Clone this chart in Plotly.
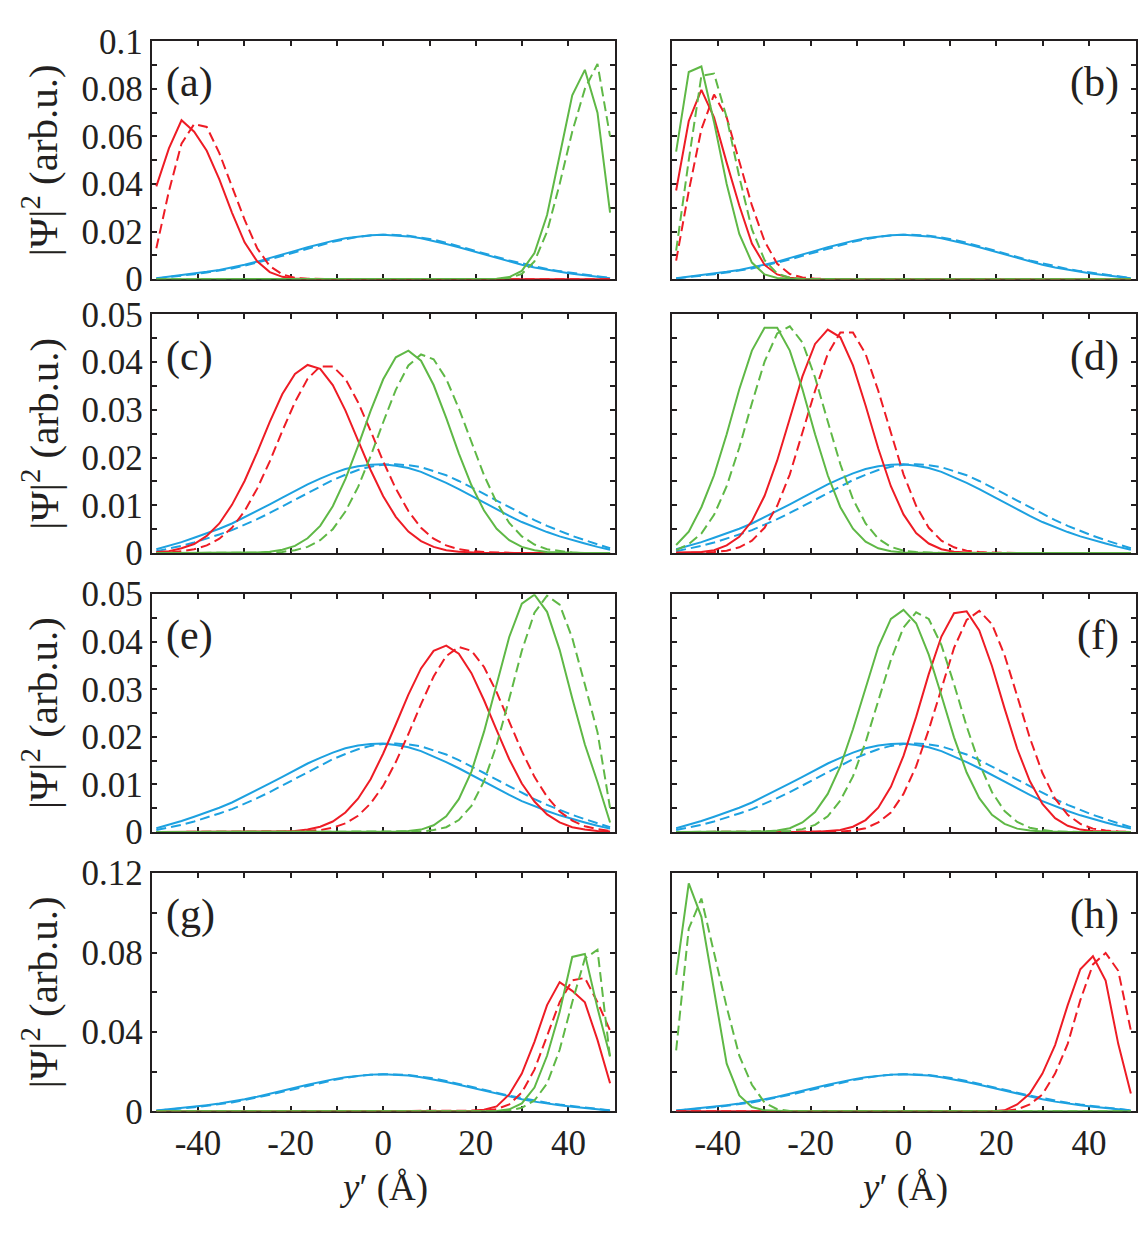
import plotly.graph_objects as go

# ---------------- data ----------------
# sample positions y' (Angstrom)
Y_GRID = [-49.00, -46.28, -43.56, -40.83, -38.11, -35.39, -32.67, -29.94, -27.22,
          -24.50, -21.78, -19.06, -16.33, -13.61, -10.89, -8.17, -5.44, -2.72, 0.00,
          2.72, 5.44, 8.17, 10.89, 13.61, 16.33, 19.06, 21.78, 24.50, 27.22, 29.94,
          32.67, 35.39, 38.11, 40.83, 43.56, 46.28, 49.00]

# blue state, panels (a),(b),(g),(h)
blue_abgh_solid = [0.0004, 0.0010, 0.0017, 0.0023, 0.0031, 0.0039, 0.0049, 0.0061, 0.0074, 0.0088,
                   0.0103, 0.0119, 0.0134, 0.0148, 0.0161, 0.0172, 0.0180, 0.0185, 0.0187, 0.0185,
                   0.0180, 0.0172, 0.0161, 0.0148, 0.0134, 0.0119, 0.0103, 0.0088, 0.0074, 0.0061,
                   0.0049, 0.0039, 0.0031, 0.0023, 0.0017, 0.0010, 0.0004]
blue_abgh_dashed = [0.0003, 0.0008, 0.0015, 0.0021, 0.0028, 0.0036, 0.0045, 0.0057, 0.0069, 0.0083,
                    0.0098, 0.0113, 0.0129, 0.0143, 0.0157, 0.0168, 0.0178, 0.0184, 0.0187, 0.0186,
                    0.0183, 0.0175, 0.0166, 0.0153, 0.0139, 0.0125, 0.0109, 0.0094, 0.0079, 0.0066,
                    0.0053, 0.0043, 0.0034, 0.0026, 0.0019, 0.0012, 0.0005]
# blue state, panels (c)-(f)
blue_cdef_solid = [0.0008, 0.0015, 0.0023, 0.0032, 0.0041, 0.0051, 0.0062, 0.0075, 0.0088, 0.0102,
                   0.0116, 0.0130, 0.0144, 0.0156, 0.0167, 0.0176, 0.0182, 0.0185, 0.0186, 0.0183,
                   0.0178, 0.0170, 0.0159, 0.0147, 0.0134, 0.0120, 0.0106, 0.0091, 0.0078, 0.0065,
                   0.0054, 0.0044, 0.0035, 0.0027, 0.0020, 0.0013, 0.0007]
blue_cdef_dashed = [0.0004, 0.0009, 0.0015, 0.0022, 0.0030, 0.0039, 0.0048, 0.0059, 0.0071, 0.0084,
                    0.0098, 0.0112, 0.0126, 0.0140, 0.0153, 0.0164, 0.0174, 0.0181, 0.0185, 0.0186,
                    0.0184, 0.0180, 0.0172, 0.0163, 0.0151, 0.0138, 0.0124, 0.0110, 0.0096, 0.0082,
                    0.0069, 0.0057, 0.0046, 0.0036, 0.0027, 0.0018, 0.0010]

# panel (a)
a_red_solid = [0.039, 0.055, 0.0668, 0.062, 0.054, 0.042, 0.028, 0.0155, 0.0075, 0.003,
               0.001, 0.0003, 0.0001, 0, 0, 0, 0, 0, 0, 0, 0, 0, 0, 0, 0, 0, 0, 0, 0, 0,
               0, 0, 0, 0, 0, 0, 0]
a_red_dashed = [0.013, 0.037, 0.057, 0.0652, 0.064, 0.053, 0.039, 0.025, 0.013, 0.0055,
                0.002, 0.0006, 0.0002, 0, 0, 0, 0, 0, 0, 0, 0, 0, 0, 0, 0, 0, 0, 0, 0, 0,
                0, 0, 0, 0, 0, 0, 0]
a_green_solid = [0, 0, 0, 0, 0, 0, 0, 0, 0, 0, 0, 0, 0, 0, 0, 0, 0, 0, 0, 0, 0, 0, 0, 0, 0, 0, 0,
                 0.0002, 0.0009, 0.0035, 0.011, 0.027, 0.052, 0.0773, 0.088, 0.070, 0.028]
a_green_dashed = [0, 0, 0, 0, 0, 0, 0, 0, 0, 0, 0, 0, 0, 0, 0, 0, 0, 0, 0, 0, 0, 0, 0, 0, 0, 0, 0,
                  0.0001, 0.0005, 0.0022, 0.0075, 0.020, 0.040, 0.062, 0.080, 0.0905, 0.060]

# panel (b)
b_red_solid = [0.0373, 0.0665, 0.0796, 0.068, 0.049, 0.031, 0.015, 0.006, 0.002, 0.0006, 0.0001,
               0, 0, 0, 0, 0, 0, 0, 0, 0, 0, 0, 0, 0, 0, 0, 0, 0, 0, 0, 0, 0, 0, 0, 0, 0, 0]
b_red_dashed = [0.0078, 0.037, 0.063, 0.0776, 0.068, 0.050, 0.031, 0.016, 0.0065, 0.0022, 0.0007,
                0.0002, 0, 0, 0, 0, 0, 0, 0, 0, 0, 0, 0, 0, 0, 0, 0, 0, 0, 0, 0, 0, 0, 0, 0, 0, 0]
b_green_solid = [0.0536, 0.0871, 0.0894, 0.066, 0.040, 0.019, 0.007, 0.002, 0.0005, 0.0001,
                 0, 0, 0, 0, 0, 0, 0, 0, 0, 0, 0, 0, 0, 0, 0, 0, 0, 0, 0, 0, 0, 0, 0, 0, 0, 0, 0]
b_green_dashed = [0.012, 0.050, 0.0855, 0.0864, 0.068, 0.043, 0.021, 0.008, 0.0024, 0.0006, 0.0001,
                  0, 0, 0, 0, 0, 0, 0, 0, 0, 0, 0, 0, 0, 0, 0, 0, 0, 0, 0, 0, 0, 0, 0, 0, 0, 0]

# panel (c)
c_red_solid = [0.0002, 0.0004, 0.001, 0.0019, 0.0036, 0.0062, 0.0101, 0.0151, 0.0211, 0.0275,
               0.0333, 0.0375, 0.0394, 0.0386, 0.0352, 0.0299, 0.0236, 0.0174, 0.0119, 0.0076,
               0.0045, 0.0025, 0.0013, 0.0006, 0.0003, 0.0001, 0, 0, 0, 0, 0, 0, 0, 0, 0, 0, 0]
c_red_dashed = [0.0001, 0.00015, 0.0004, 0.0008, 0.0016, 0.003, 0.0053, 0.0088, 0.0135, 0.0192,
                0.0256, 0.0316, 0.0365, 0.0391, 0.0391, 0.0365, 0.0316, 0.0256, 0.0192, 0.0135,
                0.0088, 0.0053, 0.003, 0.0016, 0.0008, 0.0004, 0.0002, 0.0001, 0, 0, 0, 0, 0, 0, 0, 0, 0]
c_green_solid = [0, 0, 0, 0, 0, 0, 0, 0, 0.0001, 0.0003, 0.0007, 0.0015, 0.0031, 0.0057, 0.0098,
                 0.0155, 0.0224, 0.0298, 0.0364, 0.041, 0.0424, 0.0403, 0.0352, 0.0283, 0.0209,
                 0.0142, 0.0089, 0.0051, 0.0027, 0.0013, 0.0006, 0.0002, 0.0001, 0, 0, 0, 0]
c_green_dashed = [0, 0, 0, 0, 0, 0, 0, 0, 0, 0.0001, 0.00025, 0.0006, 0.0013, 0.0027, 0.005,
                  0.0087, 0.0138, 0.0203, 0.0274, 0.0342, 0.0393, 0.0416, 0.0406, 0.0365, 0.0303,
                  0.0231, 0.0163, 0.0106, 0.0063, 0.0035, 0.0018, 0.0008, 0.0004, 0.0001, 0, 0, 0]

# panel (d)
d_red_solid = [0.0001, 0.0001, 0.0002, 0.0006, 0.0016, 0.0034, 0.0067, 0.012, 0.0194, 0.0282,
               0.037, 0.0438, 0.0468, 0.0452, 0.0393, 0.0309, 0.0219, 0.014, 0.0081, 0.0042,
               0.002, 0.0008, 0.0003, 0.0001, 0, 0, 0, 0, 0, 0, 0, 0, 0, 0, 0, 0, 0]
d_red_dashed = [0, 0, 0.0001, 0.0002, 0.0005, 0.0012, 0.0026, 0.0053, 0.0099, 0.0165, 0.025,
                0.034, 0.0417, 0.0462, 0.0462, 0.0417, 0.034, 0.025, 0.0165, 0.0099, 0.0053,
                0.0026, 0.0012, 0.0005, 0.0002, 0.0001, 0, 0, 0, 0, 0, 0, 0, 0, 0, 0, 0]
d_green_solid = [0.0017, 0.0045, 0.0096, 0.0163, 0.0249, 0.0343, 0.0424, 0.0472, 0.0472, 0.0424,
                 0.0343, 0.0249, 0.0163, 0.0096, 0.0051, 0.0024, 0.001, 0.0004, 0.00013, 0.00004,
                 0, 0, 0, 0, 0, 0, 0, 0, 0, 0, 0, 0, 0, 0, 0, 0, 0]
d_green_dashed = [0.0006, 0.0019, 0.0041, 0.008, 0.014, 0.0221, 0.0314, 0.0401, 0.046, 0.0475,
                  0.0441, 0.0368, 0.0276, 0.0186, 0.0113, 0.0062, 0.003, 0.0013, 0.0005, 0.0002,
                  0.0001, 0, 0, 0, 0, 0, 0, 0, 0, 0, 0, 0, 0, 0, 0, 0, 0]

# panel (e)
e_red_solid = [0, 0, 0, 0, 0, 0, 0, 0, 0, 0, 0.0001, 0.0002, 0.0005, 0.0011, 0.0022, 0.0041,
               0.007, 0.0111, 0.0165, 0.0226, 0.0289, 0.0344, 0.0381, 0.0392, 0.0375, 0.0334,
               0.0277, 0.0214, 0.0153, 0.0102, 0.0064, 0.0037, 0.002, 0.001, 0.0005, 0.0002, 0.0001]
e_red_dashed = [0, 0, 0, 0, 0, 0, 0, 0, 0, 0, 0, 0.0001, 0.0002, 0.0004, 0.0009, 0.0018, 0.0034,
                0.006, 0.0097, 0.0147, 0.0206, 0.0269, 0.0327, 0.037, 0.0389, 0.0381, 0.0347,
                0.0294, 0.0232, 0.017, 0.0116, 0.0074, 0.0043, 0.0024, 0.0012, 0.0006, 0.0002]
e_green_solid = [0, 0, 0, 0, 0, 0, 0, 0, 0, 0, 0, 0, 0, 0, 0, 0, 0, 0, 0, 0.0001, 0.0002,
                 0.0005, 0.0014, 0.0033, 0.0069, 0.0127, 0.0211, 0.0312, 0.041, 0.048, 0.0499,
                 0.0463, 0.0383, 0.0281, 0.0184, 0.0105, 0.002]
e_green_dashed = [0, 0, 0, 0, 0, 0, 0, 0, 0, 0, 0, 0, 0, 0, 0, 0, 0, 0, 0, 0, 0, 0.0001, 0.0004,
                  0.001, 0.0025, 0.0055, 0.0107, 0.0183, 0.028, 0.0381, 0.0461, 0.0497, 0.0478,
                  0.0408, 0.031, 0.021, 0.005]

# panel (f)
f_red_solid = [0, 0, 0, 0, 0, 0, 0, 0, 0, 0, 0, 0, 0.0002, 0.0004, 0.0011, 0.0025, 0.0051,
               0.0095, 0.016, 0.0242, 0.0332, 0.0411, 0.046, 0.0464, 0.0424, 0.0349, 0.026,
               0.0175, 0.0107, 0.0059, 0.0029, 0.0013, 0.0005, 0.0002, 0.0001, 0, 0]
f_red_dashed = [0, 0, 0, 0, 0, 0, 0, 0, 0, 0, 0, 0, 0, 0.0001, 0.0003, 0.0008, 0.002, 0.0041,
                0.008, 0.0138, 0.0215, 0.0303, 0.0387, 0.0446, 0.0465, 0.0437, 0.0372, 0.0286,
                0.0198, 0.0124, 0.007, 0.0036, 0.0017, 0.0007, 0.0003, 0.0001, 0]
f_green_solid = [0, 0, 0, 0, 0, 0, 0, 0.0001, 0.0003, 0.0008, 0.002, 0.0042, 0.008, 0.0138,
                 0.0216, 0.0305, 0.0389, 0.0448, 0.0467, 0.0439, 0.0373, 0.0287, 0.0199, 0.0125,
                 0.0071, 0.0036, 0.0017, 0.0007, 0.0003, 0.0001, 0, 0, 0, 0, 0, 0, 0]
f_green_dashed = [0, 0, 0, 0, 0, 0, 0, 0, 0.0001, 0.0002, 0.0006, 0.0015, 0.0033, 0.0066,
                  0.0117, 0.0189, 0.0275, 0.0362, 0.043, 0.0462, 0.0448, 0.0393, 0.0311, 0.0222,
                  0.0144, 0.0084, 0.0044, 0.0021, 0.0009, 0.0004, 0.0001, 0, 0, 0, 0, 0, 0]

# panel (g)
g_red_solid = [0, 0, 0, 0, 0, 0, 0, 0, 0, 0, 0, 0, 0, 0, 0, 0, 0, 0, 0, 0, 0, 0, 0, 0,
               0.0001, 0.0003, 0.0008, 0.0025, 0.0085, 0.019, 0.035, 0.0535, 0.0651, 0.0607,
               0.0549, 0.036, 0.0142]
g_red_dashed = [0, 0, 0, 0, 0, 0, 0, 0, 0, 0, 0, 0, 0, 0, 0, 0, 0, 0, 0, 0, 0, 0, 0, 0, 0,
                0.0001, 0.0003, 0.0011, 0.0035, 0.0095, 0.021, 0.038, 0.055, 0.066, 0.0672,
                0.055, 0.0407]
g_green_solid = [0, 0, 0, 0, 0, 0, 0, 0, 0, 0, 0, 0, 0, 0, 0, 0, 0, 0, 0, 0, 0, 0, 0, 0, 0, 0, 0,
                 0.0002, 0.001, 0.004, 0.012, 0.028, 0.050, 0.0778, 0.0793, 0.052, 0.0277]
g_green_dashed = [0, 0, 0, 0, 0, 0, 0, 0, 0, 0, 0, 0, 0, 0, 0, 0, 0, 0, 0, 0, 0, 0, 0, 0, 0, 0, 0,
                  0.0001, 0.0005, 0.0018, 0.0055, 0.014, 0.031, 0.055, 0.077, 0.0814, 0.0269]

# panel (h)
h_red_solid = [0, 0, 0, 0, 0, 0, 0, 0, 0, 0, 0, 0, 0, 0, 0, 0, 0, 0, 0, 0, 0, 0, 0, 0, 0,
               0.0001, 0.0005, 0.0035, 0.009, 0.019, 0.0334, 0.0535, 0.0716, 0.0781, 0.0659,
               0.034, 0.009]
h_red_dashed = [0, 0, 0, 0, 0, 0, 0, 0, 0, 0, 0, 0, 0, 0, 0, 0, 0, 0, 0, 0, 0, 0, 0, 0, 0, 0,
                0.0002, 0.001, 0.0035, 0.0085, 0.019, 0.034, 0.056, 0.074, 0.0798, 0.0708, 0.0407]
h_green_solid = [0.0687, 0.1148, 0.098, 0.060, 0.024, 0.008, 0.0022, 0.0005, 0.0001,
                 0, 0, 0, 0, 0, 0, 0, 0, 0, 0, 0, 0, 0, 0, 0, 0, 0, 0, 0, 0, 0, 0, 0, 0, 0, 0, 0, 0]
h_green_dashed = [0.0307, 0.092, 0.1072, 0.080, 0.0526, 0.028, 0.0134, 0.0044, 0.0011, 0.0002,
                  0, 0, 0, 0, 0, 0, 0, 0, 0, 0, 0, 0, 0, 0, 0, 0, 0, 0, 0, 0, 0, 0, 0, 0, 0, 0, 0]

PANEL_LABELS = ["(a)", "(b)", "(c)", "(d)", "(e)", "(f)", "(g)", "(h)"]
X_MAJOR = [-40, -20, 0, 20, 40]
X_MAJOR_TEXT = ["-40", "-20", "0", "20", "40"]
X_MINOR = [-30, -10, 10, 30]
# (major values, labels, minor values, axis max) for each row
Y_TICKS_ROW = [
    ([0, 0.02, 0.04, 0.06, 0.08, 0.1], ["0", "0.02", "0.04", "0.06", "0.08", "0.1"],
     [0.01, 0.03, 0.05, 0.07, 0.09], 0.1),
    ([0, 0.01, 0.02, 0.03, 0.04, 0.05], ["0", "0.01", "0.02", "0.03", "0.04", "0.05"],
     [0.005, 0.015, 0.025, 0.035, 0.045], 0.05),
    ([0, 0.01, 0.02, 0.03, 0.04, 0.05], ["0", "0.01", "0.02", "0.03", "0.04", "0.05"],
     [0.005, 0.015, 0.025, 0.035, 0.045], 0.05),
    ([0, 0.04, 0.08, 0.12], ["0", "0.04", "0.08", "0.12"], [0.02, 0.06, 0.1], 0.12),
]

PANEL_DATA = [
    (blue_abgh_solid, blue_abgh_dashed, a_red_solid, a_red_dashed, a_green_solid, a_green_dashed),
    (blue_abgh_solid, blue_abgh_dashed, b_red_solid, b_red_dashed, b_green_solid, b_green_dashed),
    (blue_cdef_solid, blue_cdef_dashed, c_red_solid, c_red_dashed, c_green_solid, c_green_dashed),
    (blue_cdef_solid, blue_cdef_dashed, d_red_solid, d_red_dashed, d_green_solid, d_green_dashed),
    (blue_cdef_solid, blue_cdef_dashed, e_red_solid, e_red_dashed, e_green_solid, e_green_dashed),
    (blue_cdef_solid, blue_cdef_dashed, f_red_solid, f_red_dashed, f_green_solid, f_green_dashed),
    (blue_abgh_solid, blue_abgh_dashed, g_red_solid, g_red_dashed, g_green_solid, g_green_dashed),
    (blue_abgh_solid, blue_abgh_dashed, h_red_solid, h_red_dashed, h_green_solid, h_green_dashed),
]

# ---------------- layout / style ----------------
W, H = 1140, 1234
FONT = "Liberation Serif, Times New Roman, serif"
INK = "#231f20"
BLUE, RED, GREEN = "#1da1e0", "#ee1c25", "#5fb846"
DASH = "10px,5px"

# pixel boxes of the axes
X_DOM_PX = [(151.7, 614.7), (671.5, 1135.5)]
Y_DOM_PX = [(23, 268.7), (305, 551.5), (594, 839.5), (882, 1128)]

fig = go.Figure()
annotations = []
layout_axes = {}

for i in range(8):
    row, col = divmod(i, 2)
    n = i + 1
    xa, ya = f"x{n}", f"y{n}"
    xd = [X_DOM_PX[col][0] / W, X_DOM_PX[col][1] / W]
    yd = [1 - Y_DOM_PX[row][1] / H, 1 - Y_DOM_PX[row][0] / H]
    bs, bd, rs, rd, gs, gd = PANEL_DATA[i]
    for vals, color, dash in [(bs, BLUE, None), (bd, BLUE, DASH),
                              (rs, RED, None), (rd, RED, DASH),
                              (gs, GREEN, None), (gd, GREEN, DASH)]:
        fig.add_trace(go.Scatter(x=Y_GRID, y=vals, mode="lines", xaxis=xa, yaxis=ya,
                                 line=dict(color=color, width=2, dash=dash),
                                 showlegend=False, hoverinfo="skip"))
    ymaj, ylab, ymin, ymax = Y_TICKS_ROW[row]
    common = dict(showline=True, linewidth=2, linecolor=INK, mirror="ticks",
                  ticks="inside", ticklen=5, tickwidth=1.5, tickcolor=INK,
                  showgrid=False, zeroline=False, layer="below traces",
                  tickfont=dict(family=FONT, size=35, color=INK))
    minor_style = dict(ticks="inside", ticklen=5, tickwidth=1.5, tickcolor=INK, showgrid=False)
    layout_axes[f"xaxis{n}"] = dict(domain=xd, range=[-50, 50], anchor=ya,
                                    tickmode="array", tickvals=X_MAJOR, ticktext=X_MAJOR_TEXT,
                                    minor=dict(tickmode="array", tickvals=X_MINOR, **minor_style),
                                    showticklabels=(row == 3), **common)
    layout_axes[f"yaxis{n}"] = dict(domain=yd, range=[0, ymax], anchor=xa,
                                    tickmode="array", tickvals=ymaj, ticktext=ylab,
                                    minor=dict(tickmode="array", tickvals=ymin, **minor_style),
                                    showticklabels=(col == 0), **common)
    # panel label
    ytop = Y_DOM_PX[row][0]
    if col == 0:
        annotations.append(dict(text=PANEL_LABELS[i], x=164 / W, xanchor="left",
                                y=1 - (ytop + 43) / H, yanchor="middle", xref="paper", yref="paper",
                                showarrow=False, font=dict(family=FONT, size=42, color=INK)))
    else:
        annotations.append(dict(text=PANEL_LABELS[i], x=1121 / W, xanchor="right",
                                y=1 - (ytop + 43) / H, yanchor="middle", xref="paper", yref="paper",
                                showarrow=False, font=dict(family=FONT, size=42, color=INK)))
    # y title for left column
    if col == 0:
        yc = (Y_DOM_PX[row][0] + Y_DOM_PX[row][1]) / 2
        annotations.append(dict(text="|Ψ|<sup>2</sup> (arb.u.)", textangle=-90,
                                x=40 / W, xanchor="center", y=1 - yc / H, yanchor="middle",
                                xref="paper", yref="paper", showarrow=False,
                                font=dict(family=FONT, size=41, color=INK)))

# x titles
for col in range(2):
    xc = (X_DOM_PX[col][0] + X_DOM_PX[col][1]) / 2
    annotations.append(dict(text="<i>y</i>′ (Å)", x=xc / W, xanchor="center",
                            y=1 - 1207 / H, yanchor="middle", xref="paper", yref="paper",
                            showarrow=False, font=dict(family=FONT, size=37, color=INK)))

fig.update_layout(width=W, height=H, margin=dict(l=0, r=0, t=0, b=0),
                  paper_bgcolor="white", plot_bgcolor="white",
                  annotations=annotations, **layout_axes)

fig.write_html("out.html")
